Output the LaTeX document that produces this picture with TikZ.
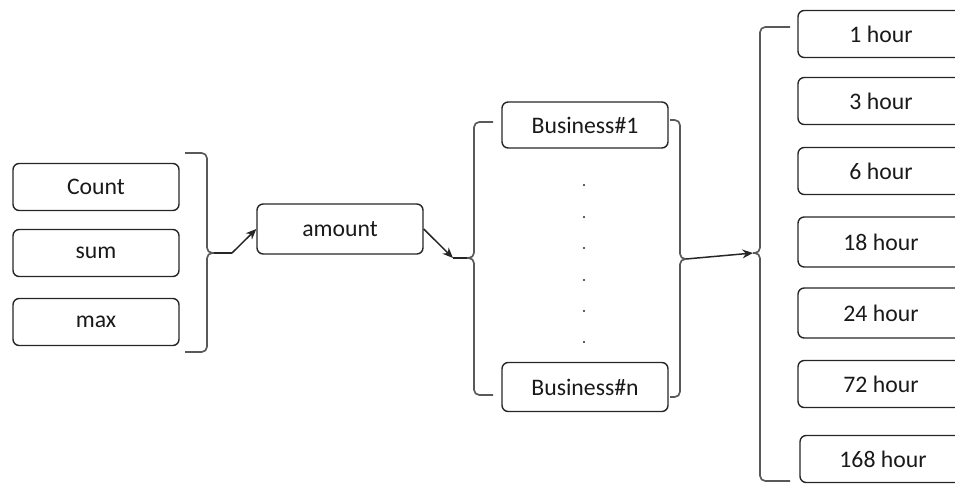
\documentclass[tikz,border=0pt]{standalone}
\usepackage{fontspec}
\setmainfont{Carlito}
\usetikzlibrary{arrows.meta}
\tikzset{box/.style={draw, rounded corners=3.5pt, minimum width=3.32cm, minimum height=0.94cm,
    inner sep=0pt, text=black!90, font=\fontsize{13.5}{15}\selectfont},
  brk/.style={draw, black!65, line width=0.95pt, rounded corners=3pt},
  arr/.style={-{Stealth[length=6pt,width=5pt]}, line width=0.85pt}}

\begin{document}
\begin{tikzpicture}[x=0.02cm,y=-0.02cm,black!85,line width=0.8pt]
     \useasboundingbox (0,0) rectangle (955,483);
     \clip (0,0) rectangle (955,483);
     \begin{scope}
      \node[box] (count) at (96,187) {Count};
      \node[box] (sum)   at (96,253) {sum};
      \node[box] (max)   at (96,322) {max};
      \draw[brk] (185,153) -| (207,253) -- (214,253);
      \draw[brk] (214,253) -| (207,352) -- (185,352);
      \coordinate (b1)  at (214,253);
      \coordinate (b1e) at (232,253);
     \end{scope}
     \node[box, minimum height=1cm] (amount) at (340,229) {amount};
     \draw (b1) -- (b1e);
     \draw[arr] (b1e) -- (amount.west);
     \begin{scope}
      \node[box, minimum height=0.92cm] (bus1) at (585,125) {Business\#1};
      \node[box, minimum height=0.98cm] (busn) at (585,387) {Business\#n};
      \foreach \y in {185,217,248,280,311,342}
        \fill[black!85] (584,\y) circle (1.1);
      \draw[brk] (493,122) -| (474,258) -- (467,258);
      \draw[brk] (467,258) -| (474,395) -- (493,395);
      \coordinate (b2)  at (467,258);
      \coordinate (b2e) at (453,258);
      \draw[brk] (670,120) -| (680,259) -- (686,259);
      \draw[brk] (686,259) -| (680,397) -- (670,397);
      \coordinate (b3) at (686,259);
     \end{scope}
     \draw[arr] (amount.east) -- (b2e);
     \draw (b2e) -- (b2);
     \begin{scope}
      \node[box] (h1)   at (881,34)  {1 hour};
      \node[box] (h3)   at (881,101) {3 hour};
      \node[box] (h6)   at (881,171) {6 hour};
      \node[box, minimum height=1cm] (h18)  at (881,242) {18 hour};
      \node[box, minimum height=1cm] (h24)  at (881,313) {24 hour};
      \node[box] (h72)  at (881,384) {72 hour};
      \node[box] (h168) at (883,459) {168 hour};
      \draw[brk] (790,27) -| (760,253) -- (753,253);
      \draw[brk] (753,253) -| (760,481) -- (790,481);
      \coordinate (b4) at (753,253);
     \end{scope}
     \draw[arr] (b3) -- (b4);
\end{tikzpicture}
\end{document}
